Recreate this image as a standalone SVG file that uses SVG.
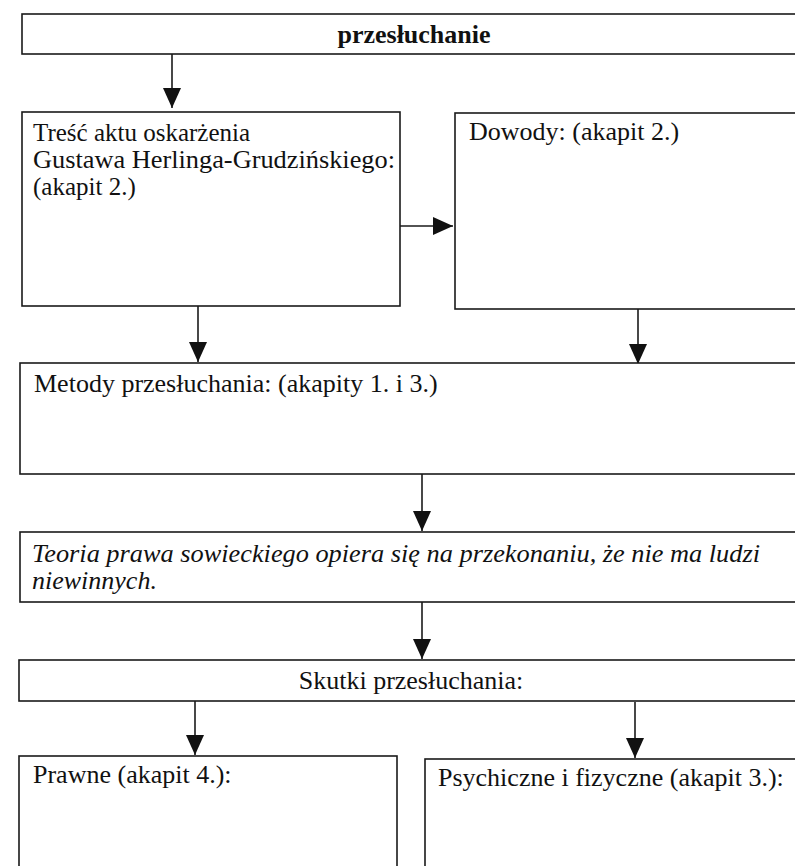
<svg xmlns="http://www.w3.org/2000/svg" width="795" height="866" viewBox="0 0 795 866">
  <defs>
    <marker id="ah" viewBox="0 0 20 18" refX="20" refY="9" markerWidth="20" markerHeight="18" markerUnits="userSpaceOnUse" orient="auto">
      <path d="M0,0 L20,9 L0,18 z" fill="#111"/>
    </marker>
    <style>
      .box { fill: #fff; stroke: #1a1a1a; stroke-width: 1.6; }
      .t { font-family: "Liberation Serif", "Times New Roman", serif; font-size: 26px; fill: #111; }
      .s { font-size: 25px; }
      .b { font-weight: bold; }
      .i { font-style: italic; }
      .c { text-anchor: middle; }
      .conn { fill: none; stroke: #1a1a1a; stroke-width: 1.6; marker-end: url(#ah); }
    </style>
  </defs>
  <rect width="795" height="866" fill="#fff"/>

  <g id="connectors">
    <path class="conn" d="M172,54 V108"/>
    <path class="conn" d="M400,226 H453"/>
    <path class="conn" d="M198,306 V362"/>
    <path class="conn" d="M638,309 V364"/>
    <path class="conn" d="M422,474 V531"/>
    <path class="conn" d="M422,602 V659"/>
    <path class="conn" d="M195,701 V755"/>
    <path class="conn" d="M635,702 V758"/>
  </g>

  <g id="przesluchanie">
    <rect class="box" x="22" y="14" width="800" height="40"/>
    <text class="t b c" x="414" y="43">przesłuchanie</text>
  </g>

  <g id="tresc">
    <rect class="box" x="22" y="112" width="378" height="194"/>
    <text class="t s" x="33" y="141">Treść aktu oskarżenia</text>
    <text class="t s" x="33" y="168" textLength="362" lengthAdjust="spacingAndGlyphs">Gustawa Herlinga-Grudzińskiego:</text>
    <text class="t s" x="33" y="195">(akapit 2.)</text>
  </g>

  <g id="dowody">
    <rect class="box" x="455" y="113" width="400" height="196"/>
    <text class="t" x="469" y="140">Dowody: (akapit 2.)</text>
  </g>

  <g id="metody">
    <rect class="box" x="20" y="363" width="800" height="111"/>
    <text class="t" x="34" y="392">Metody przesłuchania: (akapity 1. i 3.)</text>
  </g>

  <g id="teoria">
    <rect class="box" x="20" y="532" width="800" height="70"/>
    <text class="t i" x="32" y="562" textLength="728" lengthAdjust="spacingAndGlyphs">Teoria prawa sowieckiego opiera się na przekonaniu, że nie ma ludzi</text>
    <text class="t i" x="32" y="589">niewinnych.</text>
  </g>

  <g id="skutki">
    <rect class="box" x="19" y="660" width="800" height="41"/>
    <text class="t c" x="411" y="689">Skutki przesłuchania:</text>
  </g>

  <g id="prawne">
    <rect class="box" x="19" y="756" width="378" height="200"/>
    <text class="t" x="33" y="783">Prawne (akapit 4.):</text>
  </g>

  <g id="psychiczne">
    <rect class="box" x="425" y="759" width="400" height="200"/>
    <text class="t" x="438" y="786">Psychiczne i fizyczne (akapit 3.):</text>
  </g>
</svg>
